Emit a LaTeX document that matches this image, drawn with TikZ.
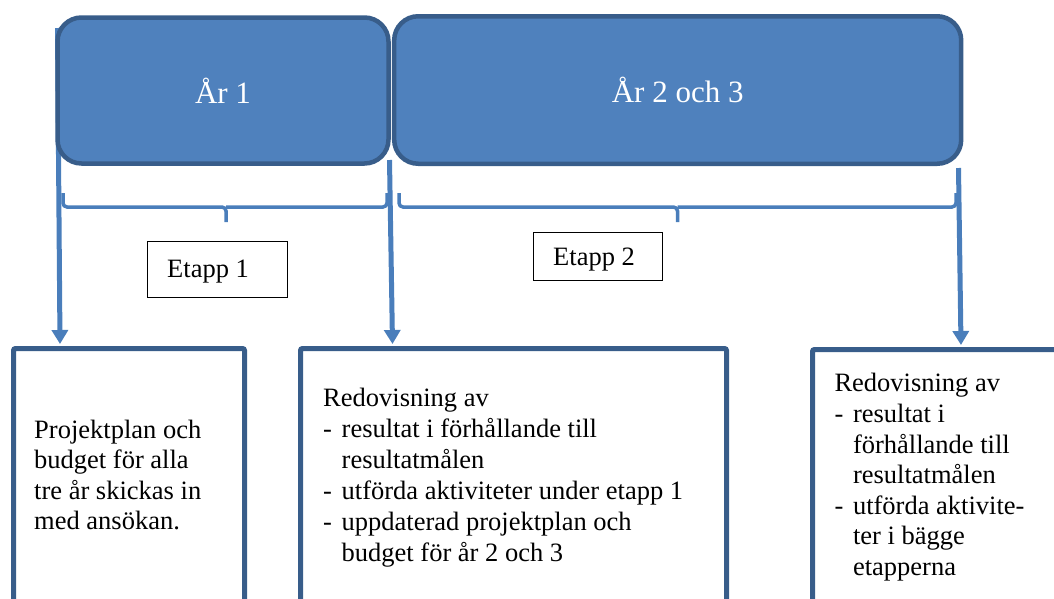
\documentclass[tikz,border=0pt]{standalone}
\usepackage{fontspec}
\setmainfont{Liberation Serif}
\usetikzlibrary{arrows.meta}
\definecolor{accfill}{HTML}{4F81BD}
\definecolor{accdark}{HTML}{385D8A}
\definecolor{arrowblue}{HTML}{4A7EBB}
\newcommand{\dashitem}{\makebox[18.5pt][l]{-}}
\newcommand{\hangind}{\hspace*{18.5pt}}
\begin{document}
\begin{tikzpicture}[x=1pt,y=-1pt,
  yearbox/.style={draw=accdark, line width=4.5pt, fill=accfill, rounded corners=24pt,
    text=white, font=\fontsize{31}{37}\selectfont},
  bracepath/.style={draw=arrowblue, line width=3.5pt, rounded corners=4pt},
  flowarrow/.style={draw=arrowblue, line width=5pt, -{Triangle[width=16pt,length=14pt]}},
  etbox/.style={draw=black, line width=1pt},
  ettext/.style={anchor=base west, inner sep=0pt, font=\fontsize{26.5}{31}\selectfont},
  infobox/.style={draw=accdark, line width=5pt, rounded corners=2pt, anchor=north,
    minimum height=320pt},
  bodytext/.style={anchor=north west, inner sep=0pt, align=left},
]
\clip (0,0) rectangle (1054,598);

% connector end points
\coordinate (a1s) at (57.5,28);
\coordinate (a1e) at (60,344);
\coordinate (a2s) at (389.5,160);
\coordinate (a2e) at (392.5,344);
\coordinate (a3s) at (958.5,168);
\coordinate (a3e) at (961,345);

% arrows (behind the boxes)
\draw[flowarrow] (a1s) -- (a1e);
\draw[flowarrow] (a2s) -- (a2e);
\draw[flowarrow] (a3s) -- (a3e);

% year boxes
\node[yearbox, minimum width=331pt, minimum height=146pt] (y1) at (223,90.5) {År 1};
\node[yearbox, minimum width=567pt, minimum height=147.5pt] (y2) at (677.7,90) {År 2 och 3};

% braces
\draw[bracepath] (63,193) |- (226,207) -- (226,222);
\draw[bracepath] (387,193) |- (226,207);
\draw[bracepath] (399,193) |- (677.5,207) -- (677.5,222);
\draw[bracepath] (956,193) |- (677.5,207);

% Etapp boxes
\node[etbox, minimum width=140pt, minimum height=56pt] (e1) at (217.5,269.5) {};
\node[ettext] (e1t) at (167,277) {Etapp 1};
\node[etbox, minimum width=129pt, minimum height=48pt] (e2) at (598,256.5) {};
\node[ettext] (e2t) at (553,265.7) {Etapp 2};

% bottom boxes
\node[infobox, minimum width=231pt] (lb) at (129,346) {};
\node[infobox, minimum width=426pt] (mb) at (513.5,346) {};
\node[infobox, minimum width=300pt] (rb) at (962.5,347) {};

% bottom texts
\node[bodytext, font=\fontsize{26.5}{30.3}\selectfont] (lbt) at (34,417.1)
  {\strut Projektplan och\\budget för alla\\tre år skickas in\\med ansökan.};
\node[bodytext, font=\fontsize{26.5}{31}\selectfont] (mbt) at (323,385)
  {\strut Redovisning av\\
   \dashitem resultat i förhållande till\\
   \hangind resultatmålen\\
   \dashitem utförda aktiviteter under etapp 1\\
   \dashitem uppdaterad projektplan och\\
   \hangind budget för år 2 och 3};
\node[bodytext, font=\fontsize{26.5}{30.6}\selectfont] (rbt) at (834.3,370.3)
  {\strut Redovisning av\\
   \dashitem resultat i\\
   \hangind förhållande till\\
   \hangind resultatmålen\\
   \dashitem utförda aktivite-\\
   \hangind ter i bägge\\
   \hangind etapperna};
\end{tikzpicture}
\end{document}
